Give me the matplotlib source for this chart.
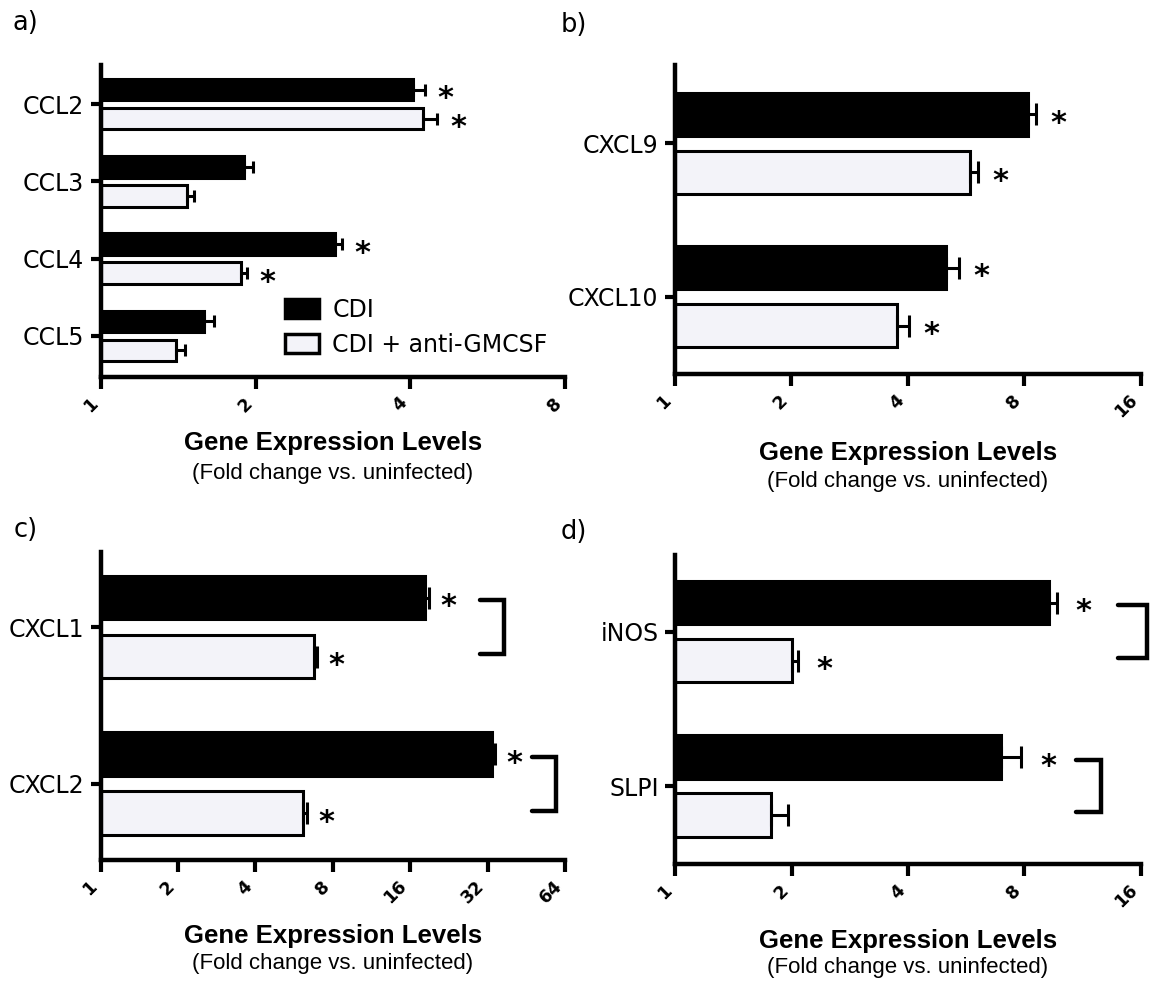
import numpy as np
import matplotlib
matplotlib.use("Agg")
import matplotlib.pyplot as plt
from matplotlib.patches import Patch
from matplotlib.ticker import NullLocator

# ---------------- data ----------------
genes_a = ["CCL2", "CCL3", "CCL4", "CCL5"]
cdi_a = [4.04, 1.90, 2.86, 1.59]
cdi_a_sem = [0.23, 0.08, 0.08, 0.07]
anti_a = [4.24, 1.47, 1.87, 1.40]
anti_a_sem = [0.27, 0.05, 0.05, 0.06]
sig_cdi_a = [True, False, True, False]
sig_anti_a = [True, False, True, False]
ticks_a = [1, 2, 4, 8]

genes_b = ["CXCL9", "CXCL10"]
cdi_b = [8.19, 5.02]
cdi_b_sem = [0.39, 0.40]
anti_b = [5.79, 3.76]
anti_b_sem = [0.27, 0.27]
sig_cdi_b = [True, True]
sig_anti_b = [True, True]
ticks_b = [1, 2, 4, 8, 16]

genes_c = ["CXCL1", "CXCL2"]
cdi_c = [18.3, 33.2]
cdi_c_sem = [0.6, 0.9]
anti_c = [6.73, 6.14]
anti_c_sem = [0.21, 0.19]
sig_cdi_c = [True, True]
sig_anti_c = [True, True]
ticks_c = [1, 2, 4, 8, 16, 32, 64]
brackets_c = [(29.8, 37.0), (47.3, 58.9)]

genes_d = ["iNOS", "SLPI"]
cdi_d = [9.26, 6.97]
cdi_d_sem = [0.45, 0.89]
anti_d = [2.00, 1.77]
anti_d_sem = [0.08, 0.18]
sig_cdi_d = [True, True]
sig_anti_d = [True, False]
ticks_d = [1, 2, 4, 8, 16]
brackets_d = [(14.0, 16.6), (10.9, 12.66)]

legend_labels = ["CDI", "CDI + anti-GMCSF"]

# ---------------- style ----------------
W, H = 1151, 984
FILL = "#f3f3f9"
SANS = "DejaVu Sans"
ARIAL = "Liberation Sans"
SPINE_LW = 3.2
BAR_LW = 2.2
ERR_LW = 2.2
OFF = 0.188
BH = 0.28

fig = plt.figure(figsize=(W / 100, H / 100), dpi=100)
fig.patch.set_facecolor("white")


def px_axes(l, r, t, b):
    return fig.add_axes([l / W, 1 - b / H, (r - l) / W, (b - t) / H])


def panel(ax, genes, cdi, cdi_sem, anti, anti_sem, sig_cdi, sig_anti, ticks,
          top_m, bot_m, capsize, ast_dx, brackets=None):
    n = len(genes)
    y = np.arange(n)
    y1 = y - OFF
    y2 = y + OFF
    cdi = np.asarray(cdi); anti = np.asarray(anti)
    ax.barh(y1, cdi - 1, left=1, height=BH, color="black", edgecolor="black",
            linewidth=BAR_LW, zorder=2)
    ax.barh(y2, anti - 1, left=1, height=BH, color=FILL, edgecolor="black",
            linewidth=BAR_LW, zorder=2)
    z = np.zeros(n)
    ax.errorbar(cdi, y1, xerr=[z, cdi_sem], fmt="none", ecolor="black",
                elinewidth=ERR_LW, capsize=capsize, capthick=ERR_LW, zorder=3)
    ax.errorbar(anti, y2, xerr=[z, anti_sem], fmt="none", ecolor="black",
                elinewidth=ERR_LW, capsize=capsize, capthick=ERR_LW, zorder=3)
    for vals, sems, sigs, ys in ((cdi, cdi_sem, sig_cdi, y1), (anti, anti_sem, sig_anti, y2)):
        for v, s, g, yy in zip(vals, sems, sigs, ys):
            if g:
                ax.annotate("*", xy=(v + s, yy), xytext=(ast_dx, -6.5),
                            textcoords="offset points", ha="center", va="center",
                            fontsize=22, fontweight="bold", family=SANS,
                            annotation_clip=False)
    if brackets:
        for (x0, x1), yy in zip(brackets, y):
            ax.plot([x0, x1, x1, x0], [yy - 0.17, yy - 0.17, yy + 0.17, yy + 0.17],
                    color="black", lw=3.2, solid_capstyle="round",
                    solid_joinstyle="miter", clip_on=False, zorder=3)
    ax.set_xscale("log", base=2)
    ax.set_xlim(ticks[0], ticks[-1])
    ax.set_xticks(ticks)
    ax.set_xticklabels([str(t) for t in ticks], rotation=45, ha="right", va="top",
                       fontsize=12.5, fontweight="bold", family=SANS)
    ax.xaxis.set_minor_locator(NullLocator())
    ax.set_yticks(y)
    ax.set_yticklabels(genes, fontsize=17, family=SANS)
    ax.set_ylim(n - 1 + bot_m, -top_m)
    for s in ("top", "right"):
        ax.spines[s].set_visible(False)
    for s in ("left", "bottom"):
        ax.spines[s].set_linewidth(SPINE_LW)
    ax.tick_params(axis="x", length=8.5, width=3, pad=4, direction="out")
    ax.tick_params(axis="y", length=7, width=3, pad=5, direction="out")
    ax.set_facecolor("white")


ax_a = px_axes(101, 565, 65, 376.7)
ax_b = px_axes(674.5, 1141, 65, 374)
ax_c = px_axes(100.6, 565.3, 551.7, 860)
ax_d = px_axes(675.4, 1140.8, 555, 864)

panel(ax_a, genes_a, cdi_a, cdi_a_sem, anti_a, anti_a_sem, sig_cdi_a, sig_anti_a,
      ticks_a, 0.505, 0.527, 4.5, 15)
panel(ax_b, genes_b, cdi_b, cdi_b_sem, anti_b, anti_b_sem, sig_cdi_b, sig_anti_b,
      ticks_b, 0.51, 0.504, 8, 16)
panel(ax_c, genes_c, cdi_c, cdi_c_sem, anti_c, anti_c_sem, sig_cdi_c, sig_anti_c,
      ticks_c, 0.48, 0.485, 8, 14, brackets_c)
panel(ax_d, genes_d, cdi_d, cdi_d_sem, anti_d, anti_d_sem, sig_cdi_d, sig_anti_d,
      ticks_d, 0.497, 0.505, 8, 19, brackets_d)

# legend in panel a
handles = [Patch(facecolor="black", edgecolor="black", linewidth=2.5),
           Patch(facecolor=FILL, edgecolor="black", linewidth=2.5)]
ax_a.legend(handles, legend_labels, loc="upper left", bbox_to_anchor=(0.397, 0.2525),
            frameon=False, prop={"family": SANS, "size": 17}, handlelength=1.45,
            handleheight=0.85, handletextpad=0.55, borderpad=0, borderaxespad=0,
            labelspacing=0.45)

# axis titles
for cx, y1, y2 in ((333, 443, 473), (908, 452.7, 481.7), (333, 936.5, 964), (908, 940.7, 967.5)):
    fig.text(cx / W, 1 - y1 / H, "Gene Expression Levels", ha="center", va="center",
             fontsize=18.5, fontweight="bold", family=ARIAL)
    fig.text(cx / W, 1 - y2 / H, "(Fold change vs. uninfected)", ha="center", va="center",
             fontsize=16, family=ARIAL)

# panel letters
for lx, ly, t in ((12, 23, "a)"), (561, 25, "b)"), (14, 530, "c)"), (561, 532, "d)")):
    fig.text(lx / W, 1 - ly / H, t, ha="left", va="center", fontsize=18.5, family=SANS)

fig.savefig("out.png", dpi=100)
